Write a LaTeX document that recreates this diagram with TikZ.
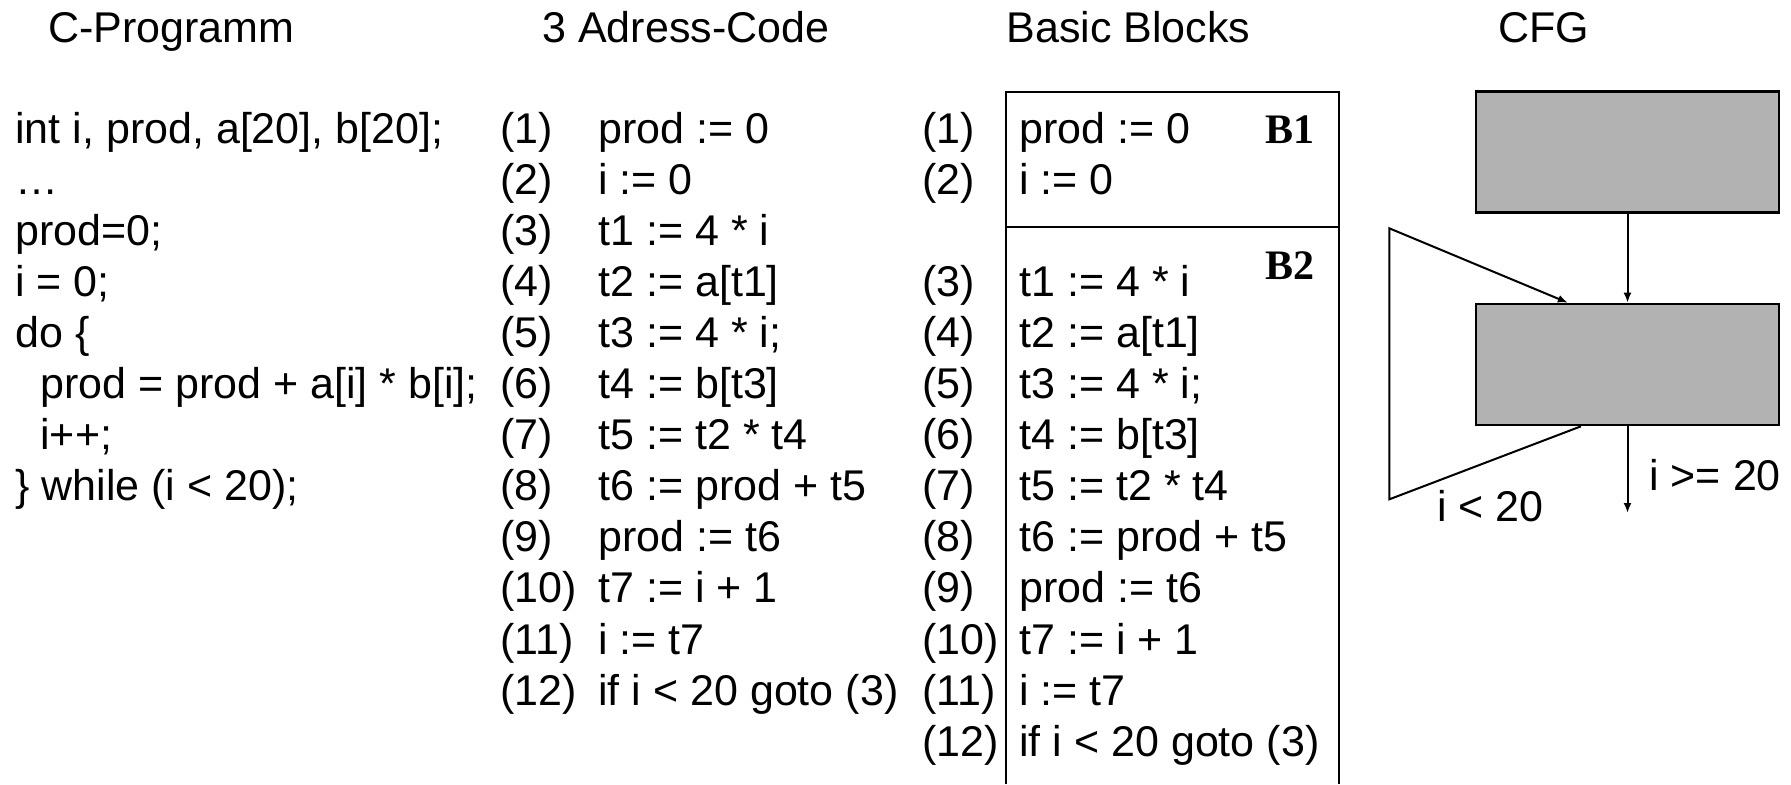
\documentclass[tikz,border=0pt]{standalone}
\usepackage{fontspec}
\setmainfont{Liberation Sans}
\newfontfamily\blockfont{Liberation Serif}
\usetikzlibrary{arrows.meta,positioning}
\definecolor{blockgray}{RGB}{178,178,178}
\tikzset{
  code/.style={anchor=base west, inner sep=0pt, font=\fontsize{21.5}{25}\selectfont},
  coltitle/.style={code},
  blocklabel/.style={anchor=base east, inner sep=0pt,
    font=\blockfont\bfseries\fontsize{21}{25}\selectfont},
  cfgblock/.style={draw, line width=1.3pt, fill=blockgray, inner sep=0pt,
    minimum width=151.5pt, minimum height=60.5pt},
  frame/.style={line width=1pt},
  arrow/.style={-{Latex[length=5pt,width=4pt]}, line width=1pt}
}
\begin{document}
\begin{tikzpicture}[x=0.5pt, y=-0.5pt]
  \useasboundingbox (0,0) rectangle (1791,784);
  % column titles
  \node[coltitle] (ctitle) at (48,42) {C-Programm};
  \node[coltitle] (tactitle) at (542,42) {3 Adress-Code};
  \node[coltitle] (bbtitle) at (1006,42) {Basic Blocks};
  \node[coltitle] (cfgtitle) at (1498,42) {CFG};

  % C program
  \foreach \src [count=\i] in {
      {int i, prod, a[20], b[20];},
      {…},
      {prod=0;},
      {i = 0;},
      {do \{},
      {\hspace*{12.5pt}prod = prod + a[i] * b[i];},
      {\hspace*{12.5pt}i++;},
      {\} while (i < 20);}}
    \node[code] (c\i) at (15,{143+(\i-1)*51.1}) {\src};

  % 3 address code
  \foreach \stmt [count=\i] in {
      {prod := 0}, {i := 0}, {t1 := 4 * i}, {t2 := a[t1]}, {t3 := 4 * i;},
      {t4 := b[t3]}, {t5 := t2 * t4}, {t6 := prod + t5}, {prod := t6},
      {t7 := i + 1}, {i := t7}, {if i < 20 goto (3)}} {
    \node[code] (tn\i) at (500,{143+(\i-1)*51.1}) {(\i)};
    \node[code] (ts\i) at (598,{143+(\i-1)*51.1}) {\stmt};
  }

  % basic blocks
  \foreach \stmt [count=\i] in {{prod := 0}, {i := 0}} {
    \node[code] (bn\i) at (922,{143+(\i-1)*51.1}) {(\i)};
    \node[code] (bs\i) at (1019,{143+(\i-1)*51.1}) {\stmt};
  }
  \foreach \stmt [count=\i from 3] in {
      {t1 := 4 * i}, {t2 := a[t1]}, {t3 := 4 * i;}, {t4 := b[t3]},
      {t5 := t2 * t4}, {t6 := prod + t5}, {prod := t6}, {t7 := i + 1},
      {i := t7}, {if i < 20 goto (3)}} {
    \node[code] (bn\i) at (922,{143+\i*51.1}) {(\i)};
    \node[code] (bs\i) at (1019,{143+\i*51.1}) {\stmt};
  }
  \draw[frame] (1005.5,784) |- (1338.5,91.7) -- (1338.5,784);
  \draw[frame] (1005.5,226.7) -- (1338.5,226.7);
  \node[blocklabel] (blabel1) at (1315,143) {B1};
  \node[blocklabel] (blabel2) at (1315,279) {B2};

  % CFG
  \node[cfgblock] (cfg1) at (1627.5,152.2) {};
  \node[cfgblock] (cfg2) at (1627.5,364.5) {};
  \coordinate (exit) at (1627.5,513);
  \coordinate (loopbot) at (1389.3,499.3);
  \coordinate (looptop) at (1389.3,228.3);
  \draw[arrow] (cfg1) -- (cfg2);
  \draw[arrow] (cfg2) -- (exit);
  \draw[arrow] (cfg2.233) -- (loopbot) -- (looptop) -- (cfg2.134);
  \node[code] (lessthan) at (1437,521.7) {i < 20};
  \node[code] (exitlabel) at (1649,490) {i >= 20};
\end{tikzpicture}
\end{document}
